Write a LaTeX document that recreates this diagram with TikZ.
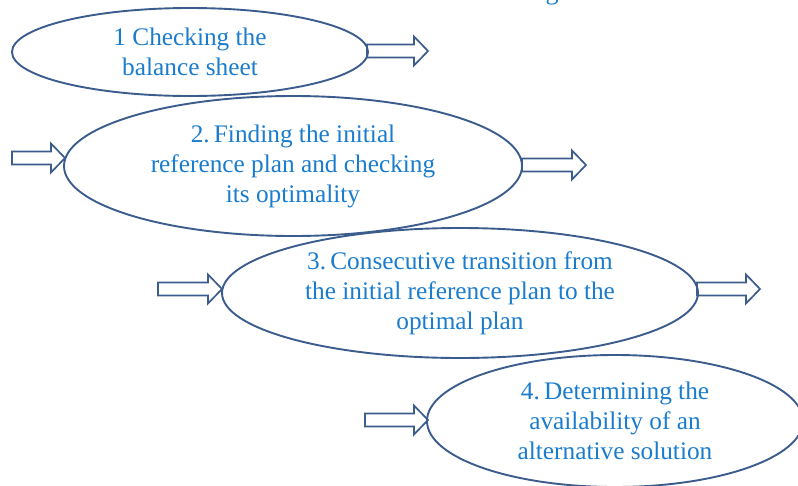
\documentclass[tikz,border=0pt]{standalone}
\usepackage{fontspec}
\setmainfont{Liberation Serif}
\usetikzlibrary{shapes.geometric}
\definecolor{txtblue}{HTML}{1A7CCD}
\definecolor{edge}{HTML}{3B5C8C}
\tikzset{
  stage/.style={ellipse, draw=edge, line width=1.9pt, inner sep=0pt,
    text=txtblue, align=center,
    font=\fontsize{25.3}{30}\selectfont},
  blockarrow/.style={draw=edge, line width=1.7pt, fill=white, line join=miter}
}
\newcommand\blkarrow[4]{% name, x1, x2, y
  \coordinate (#1) at (#2,#4);
  \draw[blockarrow] (#2,#4-6.5) -- (#3-14,#4-6.5) -- (#3-14,#4-14.5) -- (#3,#4)
    -- (#3-14,#4+14.5) -- (#3-14,#4+6.5) -- (#2,#4+6.5) -- cycle;}
\begin{document}
\begin{tikzpicture}[x=1pt,y=-1pt]
\useasboundingbox (0,0) rectangle (798,485);
\clip (0,0) rectangle (798,485);
\node[text=txtblue, font=\fontsize{26}{30}\selectfont, anchor=base] (title) at (552,-1) {g};
% arrows
\blkarrow{a1}{367}{428}{51}
\blkarrow{a2}{12}{65}{158}
\blkarrow{a3}{522}{586}{165}
\blkarrow{a4}{158}{222}{289}
\blkarrow{a5}{697}{760}{289}
\blkarrow{a6}{365}{428}{420}
% stages
\node[stage, minimum width=356pt, minimum height=88pt] (s1) at (190,52)
  {1 Checking the\\balance sheet};
\node[stage, minimum width=458pt, minimum height=140pt] (s2) at (293,166)
  {2.\,Finding the initial\\reference plan and checking\\its optimality};
\node[stage, minimum width=476pt, minimum height=130pt] (s3) at (460,293)
  {3.\,Consecutive transition from\\the initial reference plan to the\\optimal plan};
\node[stage, minimum width=376pt, minimum height=132pt] (s4) at (615,421)
  {4.\,Determining the\\availability of an\\alternative solution};
\end{tikzpicture}
\end{document}
